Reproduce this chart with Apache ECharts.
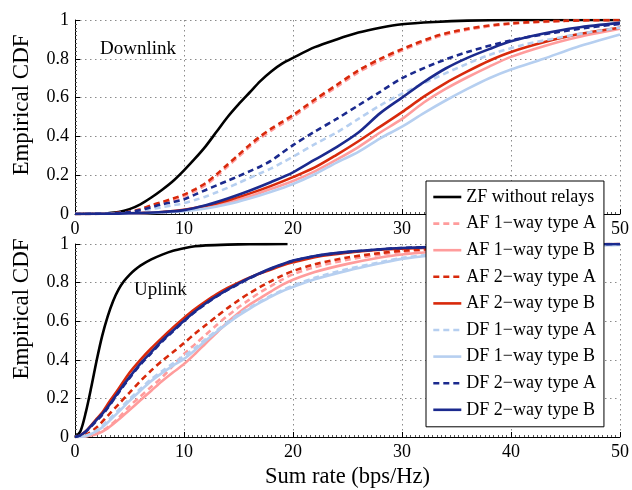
<!DOCTYPE html>
<html>
<head>
<meta charset="utf-8">
<script src="https://cdn.jsdelivr.net/npm/echarts@6/dist/echarts.min.js"></script>
<style>
  html, body { margin: 0; padding: 0; background: #fff; }
  #chart { width: 632px; height: 490px; }
</style>
</head>
<body>
<div id="chart"></div>
<script>
// Empirical CDFs of the sum rate (bps/Hz), [rate, probability] pairs

// ---- Downlink ----
const dlZF = [[0,0],[2,0.002],[3,0.004],[4,0.01],[5,0.025],[6,0.05],[7,0.085],[8,0.125],[9,0.17],[10,0.225],[11,0.285],[12,0.35],[13,0.425],[14,0.5],[15,0.565],[16,0.625],[17,0.685],[18,0.735],[19,0.775],[20,0.805],[22,0.86],[24,0.9],[26,0.935],[28,0.96],[30,0.978],[33,0.99],[36,0.997],[40,1],[50,1]];
const dlAF1A = [[0,0],[3,0.002],[5,0.01],[6,0.02],[7,0.04],[8,0.055],[9,0.07],[10,0.092],[11,0.118],[12,0.15],[13,0.195],[14,0.245],[15,0.295],[16,0.345],[17,0.39],[18,0.43],[19,0.465],[20,0.5],[21,0.54],[22,0.58],[24,0.655],[26,0.73],[28,0.79],[30,0.842],[33,0.908],[36,0.95],[40,0.98],[45,0.995],[50,1]];
const dlAF1B = [[0,0],[4,0.002],[6,0.004],[8,0.009],[10,0.018],[12,0.035],[14,0.06],[16,0.09],[18,0.13],[20,0.17],[22,0.22],[24,0.28],[26,0.345],[28,0.42],[30,0.49],[32,0.575],[34,0.645],[36,0.705],[38,0.76],[40,0.81],[43,0.865],[46,0.91],[50,0.955]];
const dlAF2A = [[0,0],[3,0.003],[5,0.012],[6,0.025],[7,0.045],[8,0.062],[9,0.08],[10,0.1],[11,0.127],[12,0.16],[13,0.205],[14,0.255],[15,0.305],[16,0.355],[17,0.4],[18,0.44],[19,0.475],[20,0.51],[21,0.55],[22,0.59],[24,0.665],[26,0.74],[28,0.8],[30,0.85],[33,0.915],[36,0.955],[40,0.983],[45,0.996],[50,1]];
const dlAF2B = [[0,0],[4,0.002],[6,0.005],[8,0.01],[10,0.022],[12,0.042],[14,0.07],[16,0.105],[18,0.145],[20,0.19],[22,0.24],[24,0.305],[26,0.375],[28,0.45],[30,0.525],[32,0.605],[34,0.675],[36,0.735],[38,0.79],[40,0.835],[43,0.885],[46,0.925],[50,0.96]];
const dlDF1A = [[0,0],[3,0.002],[5,0.008],[7,0.025],[8,0.035],[9,0.045],[10,0.056],[11,0.072],[12,0.09],[13,0.112],[14,0.135],[15,0.16],[16,0.185],[17,0.21],[18,0.235],[19,0.265],[20,0.295],[22,0.36],[24,0.42],[26,0.49],[28,0.56],[30,0.62],[33,0.7],[36,0.775],[38,0.82],[41,0.87],[44,0.905],[47,0.935],[50,0.96]];
const dlDF1B = [[0,0],[4,0.002],[6,0.004],[8,0.008],[10,0.014],[12,0.028],[14,0.05],[16,0.08],[18,0.115],[20,0.155],[22,0.205],[24,0.265],[26,0.32],[28,0.39],[30,0.45],[32,0.52],[34,0.585],[36,0.645],[38,0.7],[40,0.745],[43,0.8],[46,0.86],[50,0.925]];
const dlDF2A = [[0,0],[3,0.002],[5,0.01],[6,0.02],[7,0.035],[8,0.05],[9,0.062],[10,0.076],[11,0.1],[12,0.124],[13,0.148],[14,0.171],[15,0.195],[16,0.22],[17,0.245],[18,0.275],[19,0.315],[20,0.355],[22,0.425],[24,0.49],[26,0.56],[28,0.63],[30,0.7],[33,0.775],[36,0.835],[40,0.895],[44,0.935],[47,0.96],[50,0.98]];
const dlDF2B = [[0,0],[4,0.002],[6,0.005],[8,0.01],[10,0.02],[12,0.045],[14,0.08],[16,0.12],[18,0.165],[20,0.215],[22,0.28],[24,0.345],[26,0.42],[28,0.52],[30,0.6],[32,0.68],[34,0.75],[36,0.805],[38,0.85],[40,0.89],[43,0.93],[46,0.96],[50,0.985]];

// ---- Uplink ----
const ulZF = [[0,0],[0.5,0.03],[1,0.13],[1.5,0.26],[2,0.4],[2.5,0.525],[3,0.625],[3.5,0.705],[4,0.765],[4.5,0.808],[5,0.84],[5.5,0.866],[6,0.888],[7,0.92],[8,0.945],[9,0.965],[10,0.978],[11,0.988],[12,0.993],[14,0.997],[16,0.999],[19.5,1]];
const ulAF1A = [[0,0],[1,0.004],[2,0.02],[3,0.05],[4,0.1],[5,0.16],[6,0.21],[7,0.26],[8,0.31],[9,0.37],[10,0.43],[11,0.48],[12,0.53],[13,0.58],[14,0.628],[15,0.672],[16,0.712],[17,0.75],[18,0.783],[19,0.815],[20,0.843],[22,0.88],[25,0.918],[28,0.945],[30,0.958],[35,0.975],[40,0.986],[45,0.994],[50,1]];
const ulAF1B = [[0,0],[1,0.003],[2,0.015],[3,0.045],[4,0.09],[5,0.14],[6,0.19],[7,0.24],[8,0.29],[9,0.335],[10,0.378],[11,0.43],[12,0.486],[13,0.54],[14,0.595],[15,0.643],[16,0.685],[17,0.72],[18,0.755],[19,0.788],[20,0.815],[22,0.855],[25,0.897],[28,0.93],[30,0.946],[35,0.968],[40,0.982],[45,0.992],[50,0.997]];
const ulAF2A = [[0,0],[1,0.012],[2,0.05],[3,0.11],[4,0.17],[5,0.23],[6,0.29],[7,0.345],[8,0.395],[9,0.44],[10,0.487],[11,0.535],[12,0.58],[13,0.625],[14,0.668],[15,0.708],[16,0.745],[17,0.778],[18,0.808],[19,0.836],[20,0.86],[22,0.895],[25,0.93],[28,0.953],[30,0.965],[35,0.98],[40,0.99],[45,0.996],[50,1]];
const ulAF2B = [[0,0],[0.5,0.01],[1,0.03],[2,0.095],[2.5,0.127],[3,0.17],[4,0.25],[5,0.333],[6,0.4],[7,0.46],[8,0.515],[9,0.568],[10,0.617],[11,0.663],[12,0.703],[13,0.74],[14,0.772],[15,0.8],[16,0.825],[17,0.848],[18,0.868],[19,0.888],[20,0.905],[22,0.932],[25,0.955],[28,0.97],[30,0.976],[35,0.986],[40,0.993],[45,0.997],[50,1]];
const ulDF1A = [[0,0],[1,0.006],[2,0.035],[3,0.085],[4,0.14],[5,0.197],[6,0.25],[7,0.3],[8,0.342],[9,0.382],[10,0.42],[11,0.462],[12,0.508],[13,0.552],[14,0.595],[15,0.635],[16,0.67],[17,0.702],[18,0.733],[19,0.76],[20,0.785],[22,0.825],[25,0.87],[28,0.905],[30,0.928],[35,0.958],[40,0.977],[45,0.99],[50,0.996]];
const ulDF1B = [[0,0],[1,0.005],[2,0.03],[2.5,0.05],[3,0.075],[4,0.13],[5,0.187],[6,0.24],[7,0.29],[8,0.332],[9,0.37],[10,0.405],[11,0.45],[12,0.5],[13,0.545],[14,0.588],[15,0.628],[16,0.664],[17,0.697],[18,0.728],[19,0.755],[20,0.777],[22,0.817],[25,0.862],[28,0.9],[30,0.923],[35,0.955],[40,0.975],[45,0.99],[50,0.995]];
const ulDF2A = [[0,0],[0.5,0.008],[1,0.028],[2,0.085],[2.5,0.115],[3,0.15],[4,0.23],[5,0.305],[6,0.375],[7,0.435],[8,0.495],[9,0.548],[10,0.6],[11,0.648],[12,0.69],[13,0.728],[14,0.762],[15,0.792],[16,0.822],[17,0.848],[18,0.872],[19,0.893],[20,0.912],[22,0.937],[25,0.958],[28,0.972],[30,0.979],[35,0.988],[40,0.994],[45,0.998],[50,1]];
const ulDF2B = [[0,0],[0.5,0.01],[1,0.03],[2,0.09],[2.5,0.12],[3,0.155],[4,0.235],[5,0.31],[6,0.38],[7,0.44],[8,0.5],[9,0.552],[10,0.602],[11,0.65],[12,0.693],[13,0.73],[14,0.764],[15,0.795],[16,0.824],[17,0.85],[18,0.874],[19,0.895],[20,0.914],[22,0.938],[25,0.959],[28,0.973],[30,0.979],[35,0.988],[40,0.994],[45,0.998],[50,1]];

const seriesNames = ['ZF without relays', 'AF 1\u2212way type A', 'AF 1\u2212way type B', 'AF 2\u2212way type A', 'AF 2\u2212way type B', 'DF 1\u2212way type A', 'DF 1\u2212way type B', 'DF 2\u2212way type A', 'DF 2\u2212way type B'];
const downlinkData = [dlZF, dlAF1A, dlAF1B, dlAF2A, dlAF2B, dlDF1A, dlDF1B, dlDF2A, dlDF2B];
const uplinkData = [ulZF, ulAF1A, ulAF1B, ulAF2A, ulAF2B, ulDF1A, ulDF1B, ulDF2A, ulDF2B];

const xTicks = { min: 0, max: 50, interval: 10 };
const yTicks = { min: 0, max: 1, interval: 0.2 };

const FONT = '"Liberation Serif", "Times New Roman", serif';
const colors = ['#000000', '#ff9c9c', '#ff9c9c', '#d8290b', '#d8290b', '#b6cff0', '#b6cff0', '#1b2a8e', '#1b2a8e'];
const dashes = ['solid', [6, 4], 'solid', [6, 4], 'solid', [6, 4], 'solid', [6, 4], 'solid'];

const grids = [
  { left: 75, top: 20, width: 547.5, height: 194 },
  { left: 75, top: 244, width: 547.5, height: 194 }
];

function axisCommon() {
  return {
    axisLine: { show: true, onZero: false, lineStyle: { color: '#000', width: 1 } },
    axisTick: { show: true, inside: true, length: 5, lineStyle: { color: '#000', width: 1 } },
    splitLine: { show: true, lineStyle: { color: '#8a8a8a', width: 1, type: [1.5, 3.5] } }
  };
}

const xAxes = [0, 1].map(i => Object.assign(axisCommon(), {
  type: 'value', gridIndex: i,
  min: xTicks.min, max: xTicks.max, interval: xTicks.interval,
  minorTick: { show: true, splitNumber: 25, length: 2, lineStyle: { color: '#555', width: 1 } },
  axisLabel: { color: '#000', fontSize: 18, fontFamily: FONT, margin: 6 },
  name: i === 1 ? 'Sum rate (bps/Hz)' : '',
  nameLocation: 'middle',
  nameGap: 29,
  nameTextStyle: { color: '#000', fontSize: 22.5, fontFamily: FONT }
}));

const yAxes = [0, 1].map(i => Object.assign(axisCommon(), {
  type: 'value', gridIndex: i,
  min: yTicks.min, max: yTicks.max, interval: yTicks.interval,
  minorTick: { show: true, splitNumber: 10, length: 2, lineStyle: { color: '#555', width: 1 } },
  axisLabel: { color: '#000', fontSize: 18, fontFamily: FONT, margin: 6 }
}));

const series = [];
[downlinkData, uplinkData].forEach((set, g) => {
  set.forEach((data, k) => {
    series.push({
      name: seriesNames[k],
      type: 'line',
      xAxisIndex: g, yAxisIndex: g,
      data: data,
      symbol: 'none',
      smooth: 0.3,
      lineStyle: { color: colors[k], width: 2.6, type: dashes[k] },
      itemStyle: { color: colors[k] },
      z: 2 + k * 0.01
    });
  });
});

const chart = echarts.init(document.getElementById('chart'), null, { renderer: 'canvas' });
chart.setOption({
  animation: false,
  backgroundColor: '#fff',
  grid: grids,
  xAxis: xAxes,
  yAxis: yAxes,
  legend: {
    orient: 'vertical',
    left: 426, top: 181,
    padding: [7, 8, 8, 6],
    itemWidth: 28, itemHeight: 14, itemGap: 8.6,
    backgroundColor: '#fff', borderColor: '#000', borderWidth: 1, borderRadius: 0,
    selectedMode: false,
    itemStyle: { opacity: 0 },
    lineStyle: { width: 2.6 },
    textStyle: { color: '#000', fontSize: 18, fontFamily: FONT, lineHeight: 18 },
    data: seriesNames
  },
  graphic: [
    { type: 'text', left: 100, top: 40, style: { text: 'Downlink', fill: '#000', font: '19px ' + FONT } },
    { type: 'text', left: 134, top: 281, style: { text: 'Uplink', fill: '#000', font: '19px ' + FONT } },
    { type: 'text', x: 22, y: 105, rotation: Math.PI / 2,
      style: { text: 'Empirical CDF', fill: '#000', font: '23px ' + FONT, align: 'center', verticalAlign: 'middle' } },
    { type: 'text', x: 22, y: 309, rotation: Math.PI / 2,
      style: { text: 'Empirical CDF', fill: '#000', font: '23px ' + FONT, align: 'center', verticalAlign: 'middle' } }
  ],
  series: series
});
</script>
</body>
</html>
